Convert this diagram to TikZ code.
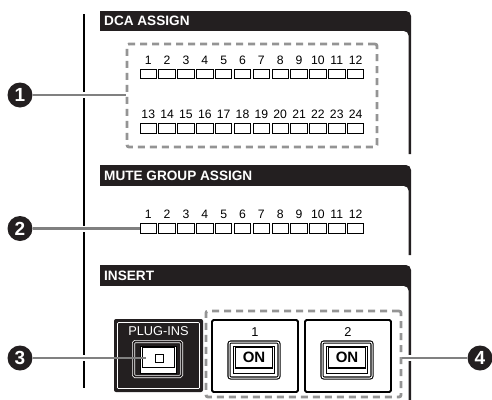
\documentclass[tikz,border=0pt]{standalone}
\usepackage{fontspec}
\setmainfont{Liberation Sans}
\usetikzlibrary{positioning,calc}
\definecolor{panel}{RGB}{35,31,32}
\definecolor{dashgray}{RGB}{148,148,148}
\definecolor{leadgray}{RGB}{128,128,128}
\tikzset{
  bartext/.style={anchor=west,text=white,inner sep=0pt,font=\bfseries\fontsize{13.6}{15}\selectfont},
  num/.style={inner sep=0pt,font=\fontsize{12.2}{14}\selectfont},
  led/.style={draw=black,line width=0.9pt,minimum width=16.5pt,minimum height=9.5pt,inner sep=0pt},
  group/.style={draw=dashgray,line width=2.8pt,dash pattern=on 7pt off 5pt,rounded corners=2pt,inner sep=0pt},
  callout/.style={circle,fill=panel,text=white,minimum size=25pt,inner sep=0pt,
                  font=\bfseries\fontsize{19}{21}\selectfont},
  leader/.style={draw=leadgray,line width=2.4pt,preaction={draw=white,line width=6pt,shorten >=#1}},
  leader/.default=4pt,
  frame/.style={draw=black,fill=white,line width=1.8pt,rounded corners=1.5pt,
                minimum width=86pt,minimum height=72pt,inner sep=0pt},
  onbtn/.style={draw=black,line width=1.1pt,double=white,double distance=1pt,fill=white,
                rounded corners=2pt,minimum width=50pt,minimum height=36pt,inner sep=0pt},
  face/.style={draw=black,line width=0.8pt,fill=white,minimum width=41pt,minimum height=27pt,inner sep=0pt},
  onlbl/.style={draw=black,line width=1.5pt,minimum width=37pt,minimum height=20.5pt,inner sep=0pt,
                font=\bfseries\fontsize{15}{17}\selectfont},
  btnnum/.style={inner sep=0pt,font=\fontsize{12.8}{15}\selectfont}
}
\begin{document}
\begin{tikzpicture}[x=1pt,y=-1pt]
  \useasboundingbox (0,0) rectangle (492,399);
  % section bars
  \fill[panel] (100,11) [rounded corners=5pt] -- (411,11) [sharp corners] -- (411,154) -- (100,154) -- cycle;
  \fill[white] (99,31) [rounded corners=5pt] -- (408.6,31) [sharp corners] -- (408.6,155) -- (99,155) -- cycle;
  \fill[panel] (100,165) [rounded corners=5pt] -- (411,165) [sharp corners] -- (411,255) -- (100,255) -- cycle;
  \fill[white] (99,186) [rounded corners=5pt] -- (408.6,186) [sharp corners] -- (408.6,256) -- (99,256) -- cycle;
  \fill[panel] (100,265) [rounded corners=5pt] -- (411,265) [sharp corners] -- (411,401) -- (100,401) -- cycle;
  \fill[white] (99,286) [rounded corners=5pt] -- (408.6,286) [sharp corners] -- (408.6,402) -- (99,402) -- cycle;
  \node[bartext] (tdca) at (104,21) {DCA ASSIGN};
  \node[bartext] (tmute) at (104,175.5) {MUTE GROUP ASSIGN};
  \node[bartext] (tins) at (104,275.5) {INSERT};
  \draw[line width=1.8pt] (84,14) -- (84,388);

  % DCA and mute group indicators
  \foreach \i in {1,...,12}{
    \node[num] (n\i) at ({129.4+18.85*\i},60) {\i};
    \node[led] (d\i) at ({129.4+18.85*\i},74) {};
    \node[num] (mn\i) at ({129.4+18.85*\i},214.5) {\i};
    \node[led] (m\i) at ({129.4+18.85*\i},228.5) {};
  }
  \foreach \i in {13,...,24}{
    \node[num] (n\i) at ({129.4+18.85*(\i-12)},114) {\i};
    \node[led] (d\i) at ({129.4+18.85*(\i-12)},128.5) {};
  }
  \node[group,minimum width=250pt,minimum height=103pt] (g1) at (252,95.5) {};

  % plug-ins block
  \node[fill=panel,rounded corners=2pt,minimum width=89pt,minimum height=73pt] (plug) at (158.5,355.5) {};
  \node[draw=white,line width=0.7pt,rounded corners=1pt,minimum width=82pt,minimum height=66pt] (plugrim) at (plug.center) {};
  \node[btnnum,text=white] (tplug) at (158.5,331) {PLUG-INS};
  \node[draw=white,line width=0.7pt,double=panel,double distance=1.6pt,fill=panel,rounded corners=1.5pt,
        minimum width=48pt,minimum height=35pt,inner sep=0pt] (pbtn) at (157.5,359) {};
  \node[face,minimum width=36pt] (pface) at (158.5,359.5) {};
  \node[draw=black,line width=1.2pt,minimum width=32pt,minimum height=20pt,inner sep=0pt] (pcap) at (158.5,357.5) {};
  \node[draw=black,line width=1pt,minimum size=8pt,inner sep=0pt] (pled) at (159,358) {};

  % insert on buttons
  \node[frame] (f1) at (255,356) {};
  \node[btnnum] (t1) at (255,332) {1};
  \node[onbtn] (b1) at (254,360) {};
  \node[face] (face1) at (254,359.5) {};
  \node[onlbl] (on1) at (254,357.8) {ON};
  \node[frame] (f2) at (348,356) {};
  \node[btnnum] (t2) at (348,332) {2};
  \node[onbtn] (b2) at (347,360) {};
  \node[face] (face2) at (347,359.5) {};
  \node[onlbl] (on2) at (347,357.8) {ON};
  \node[group,minimum width=195pt,minimum height=86pt] (g4) at (303.5,354) {};

  % callouts
  \node[callout] (c1) at (20,95) {1};
  \node[callout] (c2) at (20,228.5) {2};
  \node[callout] (c3) at (20,358) {3};
  \node[callout] (c4) at (480,358) {4};
  \coordinate (p3) at (146,358);
  \draw[leader] (c1) -- (c1 -| g1.west);
  \draw[leader] (c2) -- (m1.west);
  \draw[leader=45pt] (c3) -- (p3);
  \draw[leader] (c4) -- (c4 -| g4.east);
\end{tikzpicture}
\end{document}
